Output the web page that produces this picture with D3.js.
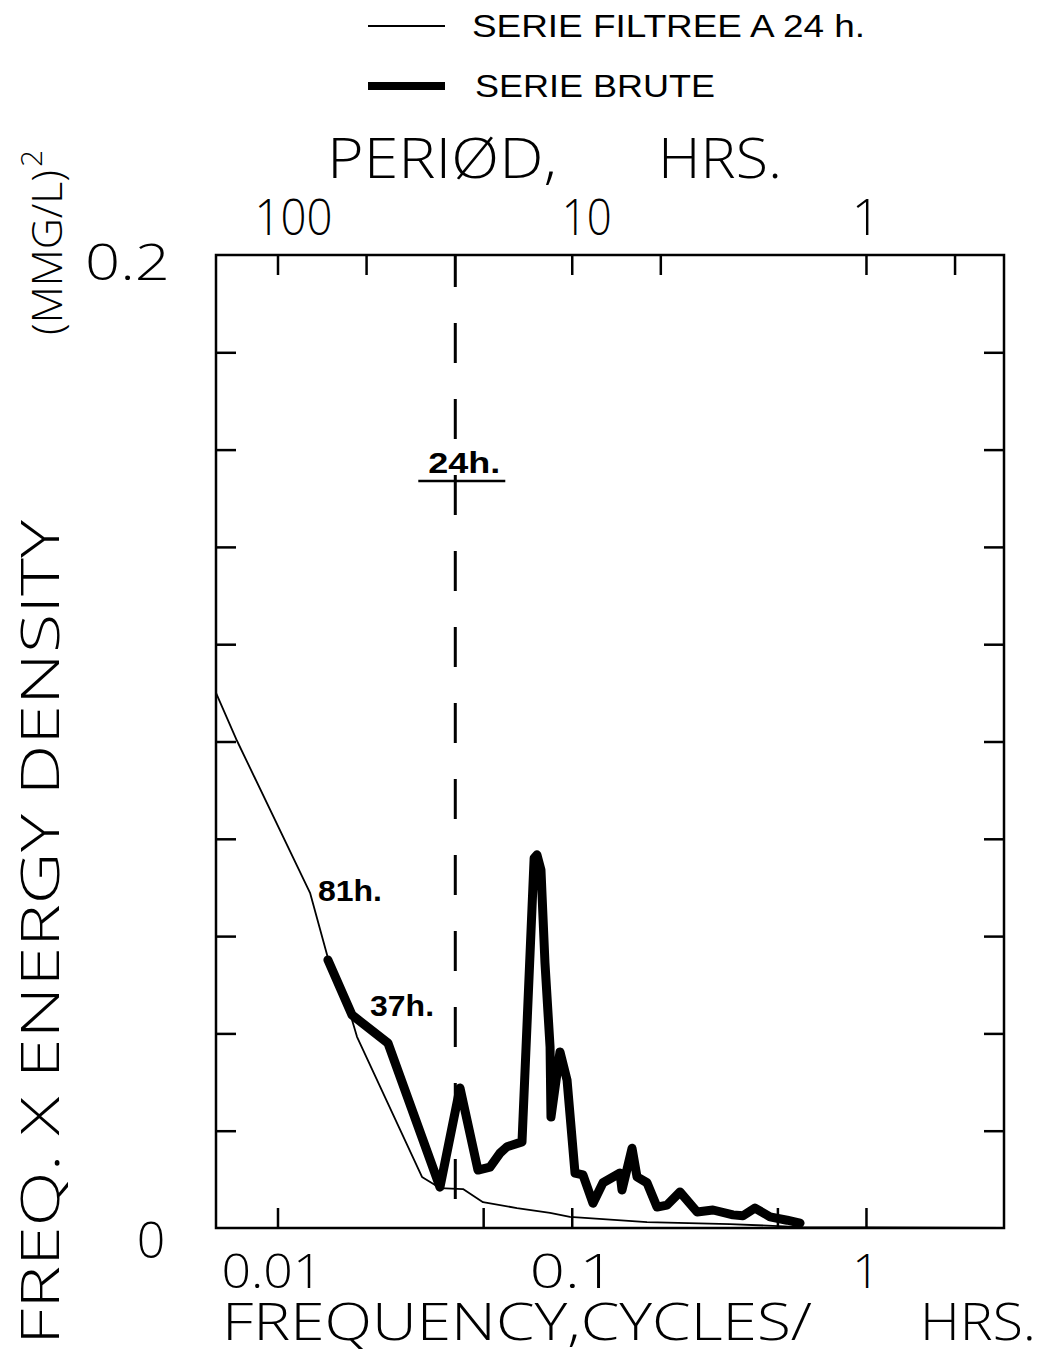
<!DOCTYPE html>
<html>
<head>
<meta charset="utf-8">
<script src="https://cdn.jsdelivr.net/npm/d3@7"></script>
<style>
  html, body { margin: 0; padding: 0; background: #fff; }
  svg { display: block; }
  .plot { font-family: "Open Sans", "DejaVu Sans", sans-serif; font-weight: 300; fill: #000; }
  .lab { font-family: "Liberation Sans", Arial, sans-serif; fill: #000; }
</style>
</head>
<body>
<svg id="chart" width="1050" height="1355"></svg>
<script>
// ---- DATA ----
// Filtered series (SERIE FILTREE A 24 h.): frequency (cycles/hr), freq x energy density (mmg/l)^2
const filteredFreq = [0.00618, 0.00729, 0.0129, 0.01484, 0.01791, 0.01863, 0.03098, 0.03566, 0.04271, 0.04994, 0.06515, 0.0844, 0.0986, 0.1802, 0.345, 0.597, 2.94];
const filteredVal  = [0.1100, 0.1001, 0.0689, 0.0555, 0.0428, 0.0393, 0.0105, 0.0082, 0.0080, 0.0053, 0.0041, 0.0031, 0.0023, 0.0012, 0.0008, 0.0002, 0.0];
// Raw series (SERIE BRUTE)
const rawFreq = [0.01484, 0.01791, 0.02374, 0.03566, 0.04171, 0.04801, 0.05275, 0.05705, 0.06026, 0.06776, 0.0745, 0.07618, 0.0786, 0.0811, 0.0844, 0.0850, 0.0912, 0.0964, 0.1026, 0.1092, 0.1181, 0.1277, 0.1459, 0.1482, 0.1603, 0.1667, 0.1802, 0.1949, 0.2107, 0.2333, 0.2666, 0.3020, 0.3532, 0.3819, 0.4196, 0.4720, 0.5393, 0.597];
const rawVal  = [0.0551, 0.0438, 0.0380, 0.0084, 0.0288, 0.0119, 0.0125, 0.0154, 0.0167, 0.0177, 0.0760, 0.0767, 0.0736, 0.0545, 0.0372, 0.0228, 0.0362, 0.0304, 0.0113, 0.0109, 0.0051, 0.0093, 0.0113, 0.0078, 0.0164, 0.0105, 0.0093, 0.0043, 0.0047, 0.0074, 0.0033, 0.0037, 0.0027, 0.0025, 0.0041, 0.0023, 0.0016, 0.0010];
// Axis ticks
const freqTicks = [0.01, 0.05, 0.1, 0.5, 1];
const freqLabels = [0.01, 0.1, 1];
const freqLabelText = ["0.01", "0.1", "1"];
const periodTicks = [100, 50, 10, 5, 1, 0.5];
const periodLabels = [100, 10, 1];
const periodLabelText = ["100", "10", "1"];
const yTicks = [0, 0.02, 0.04, 0.06, 0.08, 0.1, 0.12, 0.14, 0.16, 0.18, 0.2];
const markerFreq = 0.0402;   // "24h." marker as drawn
const peakLabels = [{text: "81h.", f: 0.01373, v: 0.0672}, {text: "37h.", f: 0.02063, v: 0.0436}];

// ---- SCALES ----
const svg = d3.select("#chart");
const L = 216, R = 1004, T = 255, B = 1228;
const x = d3.scaleLog().domain([0.00618, 2.945]).range([L, R]);
const y = d3.scaleLinear().domain([0, 0.2]).range([B, T]);

// ---- AXES (ticks inward) ----
const tickLen = 20;
const axStyle = g => { g.select(".domain").remove(); g.selectAll("line").attr("stroke", "#000").attr("stroke-width", 2.5); g.selectAll("text").remove(); };
svg.append("g").attr("transform", `translate(0,${B})`)
  .call(d3.axisBottom(x).tickValues(freqTicks).tickSize(-tickLen)).call(axStyle);
svg.append("g").attr("transform", `translate(0,${T})`)
  .call(d3.axisTop(x).tickValues(periodTicks.map(p => 1 / p)).tickSize(-tickLen)).call(axStyle);
svg.append("g").attr("transform", `translate(${L},0)`)
  .call(d3.axisLeft(y).tickValues(yTicks.slice(1, -1)).tickSize(-tickLen)).call(axStyle);
svg.append("g").attr("transform", `translate(${R},0)`)
  .call(d3.axisRight(y).tickValues(yTicks.slice(1, -1)).tickSize(-tickLen)).call(axStyle);

// frame
svg.append("rect").attr("x", L).attr("y", T).attr("width", R - L).attr("height", B - T)
  .attr("fill", "none").attr("stroke", "#000").attr("stroke-width", 2.5);

// 24h marker dashed line
const mx = x(markerFreq);
svg.append("line").attr("x1", mx).attr("x2", mx)
  .attr("y1", y(0.2)).attr("y2", y(0))
  .attr("stroke", "#000").attr("stroke-width", 3).attr("stroke-dasharray", "40,36").attr("stroke-dashoffset", 8);

// ---- LINES ----
const line = d3.line().x(d => x(d[0])).y(d => y(d[1]));
svg.append("path").datum(filteredFreq.map((f, i) => [f, filteredVal[i]]))
  .attr("d", line).attr("fill", "none").attr("stroke", "#000").attr("stroke-width", 1.8).attr("stroke-linejoin", "round");
svg.append("path").datum(rawFreq.map((f, i) => [f, rawVal[i]]))
  .attr("d", line).attr("fill", "none").attr("stroke", "#000").attr("stroke-width", 9)
  .attr("stroke-linejoin", "round").attr("stroke-linecap", "round");

// ---- TICK LABELS ----
const plotText = (txt, px, py, size, len, anchor) => {
  const t = svg.append("text").attr("class", "plot").attr("x", px).attr("y", py)
    .attr("font-size", size).attr("text-anchor", anchor || "start").text(txt);
  if (len) t.attr("textLength", len).attr("lengthAdjust", "spacingAndGlyphs");
  return t;
};
plotText(freqLabelText[0], x(freqLabels[0]) - 56, 1288, 48, 101);
plotText(freqLabelText[1], x(freqLabels[1]) - 42, 1288, 48, 85);
plotText(freqLabelText[2], x(freqLabels[2]), 1288, 48, null, "middle");
plotText(periodLabelText[0], x(1 / periodLabels[0]) - 23, 235, 50, 78);
plotText(periodLabelText[1], x(1 / periodLabels[1]) - 10, 235, 50, 50);
plotText(periodLabelText[2], x(1 / periodLabels[2]), 235, 50, null, "middle");
plotText("0.2", 85, 280, 50, 85);
plotText("0", 151, 1258, 50, null, "middle");

// ---- AXIS TITLES ----
plotText("PERIØD,", 327, 178, 56, 230);
plotText("HRS.", 658, 178, 56, 124);
plotText("FREQUENCY,CYCLES/", 222, 1340, 52, 590);
plotText("HRS.", 920, 1340, 52, 116);

const yTitle = svg.append("g").attr("transform", "translate(59,1345) rotate(-90)");
yTitle.append("text").attr("class", "plot").attr("x", 0).attr("y", 0).attr("font-size", 53)
  .attr("textLength", 825).attr("lengthAdjust", "spacingAndGlyphs").text("FREQ. X  ENERGY DENSITY");
const yUnit = svg.append("g").attr("transform", "translate(62,335) rotate(-90)");
yUnit.append("text").attr("class", "plot").attr("x", 0).attr("y", 0).attr("font-size", 42)
  .attr("textLength", 165).attr("lengthAdjust", "spacingAndGlyphs").text("(MMG/L)");
yUnit.append("text").attr("class", "plot").attr("x", 168).attr("y", -20).attr("font-size", 30).text("2");

// ---- ANNOTATIONS ----
peakLabels.forEach(p => {
  svg.append("text").attr("class", "lab").attr("x", x(p.f)).attr("y", y(p.v))
    .attr("font-size", 30).attr("font-weight", "bold").attr("textLength", 64)
    .attr("lengthAdjust", "spacingAndGlyphs").text(p.text);
});
svg.append("text").attr("class", "lab").attr("x", mx - 27).attr("y", 473)
  .attr("font-size", 30).attr("font-weight", "bold").attr("textLength", 72)
  .attr("lengthAdjust", "spacingAndGlyphs").text("24h.");
svg.append("line").attr("x1", mx - 37).attr("x2", mx + 50).attr("y1", 481).attr("y2", 481)
  .attr("stroke", "#000").attr("stroke-width", 2.5);

// ---- LEGEND ----
const legend = [{label: "SERIE FILTREE A 24 h.", w: 1.8, ty: 37, len: 393, lx: 472}, {label: "SERIE BRUTE", w: 8, ty: 97, len: 240, lx: 475}];
legend.forEach(d => {
  svg.append("line").attr("x1", 368).attr("x2", 445).attr("y1", d.ty - 11).attr("y2", d.ty - 11)
    .attr("stroke", "#000").attr("stroke-width", d.w);
  svg.append("text").attr("class", "lab").attr("x", d.lx).attr("y", d.ty).attr("font-size", 31)
    .attr("textLength", d.len).attr("lengthAdjust", "spacingAndGlyphs").text(d.label);
});
</script>
</body>
</html>
